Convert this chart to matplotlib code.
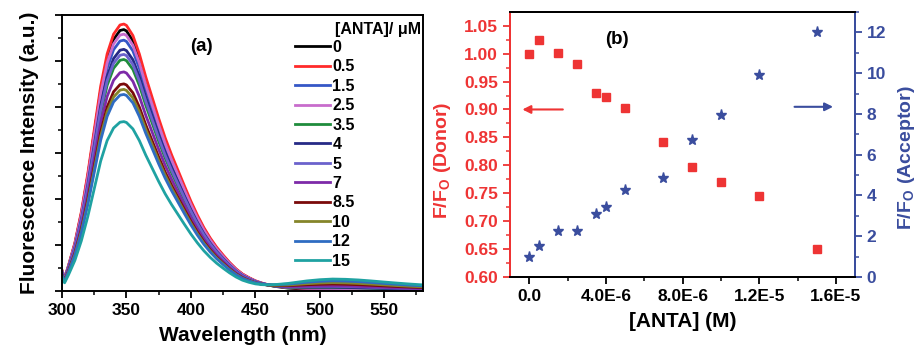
import numpy as np
import matplotlib
matplotlib.use("Agg")
import matplotlib.pyplot as plt
from matplotlib.ticker import MultipleLocator, FixedLocator

plt.rcParams['font.family'] = ['Liberation Sans', 'DejaVu Sans']
plt.rcParams['font.weight'] = 'bold'
plt.rcParams['mathtext.fontset'] = 'custom'
plt.rcParams['mathtext.bf'] = 'Liberation Sans:bold'
plt.rcParams['mathtext.rm'] = 'Liberation Sans:bold'

# ---- panel (a) data: emission spectra ----
wavelength = [300, 302, 305, 310, 315, 320, 325, 330, 335, 340, 345, 348, 350,
              355, 360, 365, 370, 375, 380, 385, 390, 395, 400, 405, 410, 415,
              420, 425, 430, 435, 440, 445, 450, 455, 460, 465, 470, 475, 480,
              490, 500, 510, 520, 530, 540, 550, 560, 570, 580]
# donor emission
donor_trace = [45, 28, 55, 105, 172, 255, 350, 445, 515, 558, 578, 580, 577,
               555, 515, 465, 420, 375, 333, 296, 262, 228, 195, 165, 138, 115,
               95, 78, 62, 48, 37, 29, 22, 17, 13, 10, 8, 6, 5,
               3, 2, 1.5, 1, 0.7, 0.5, 0.3, 0.2, 0.1, 0]
# acceptor band around 510 nm (relative)
acceptor_band = [0, 0, 0, 0, 0, 0, 0, 0, 0, 0, 0, 0, 0,
                 0, 0, 0, 0, 0, 0, 0, 0, 0, 0, 0, 0, 0,
                 0, 0, 0, 0, 0, 0.02, 0.06, 0.12, 0.2, 0.3, 0.4, 0.5, 0.6,
                 0.8, 0.93, 1.0, 0.99, 0.94, 0.86, 0.77, 0.68, 0.6, 0.53]

conc_labels = ["0", "0.5", "1.5", "2.5", "3.5", "4", "5", "7", "8.5", "10", "12", "15"]
peak_height = [568, 580, 545, 558, 503, 525, 514, 476, 450, 438, 427, 368]
band_height = [1, 3, 4.5, 4.5, 6.5, 7, 9, 10, 14, 17, 21, 25]
line_colors = ["#000000", "#ff2a2a", "#3557c6", "#c86ccc", "#1f8c3c", "#262a86",
               "#6b62cc", "#7d2aa8", "#7a0a0a", "#85852a", "#2f6cc2", "#1fa2a2"]

# ---- panel (b) data ----
anta_M = [0, 0.5e-6, 1.5e-6, 2.5e-6, 3.5e-6, 4e-6, 5e-6, 7e-6, 8.5e-6, 1e-5, 1.2e-5, 1.5e-5]
ff0_donor = [1.000, 1.024, 1.001, 0.982, 0.929, 0.922, 0.902, 0.842, 0.797, 0.771, 0.745, 0.650]
ff0_acceptor = [0.97, 1.5, 2.25, 2.25, 3.1, 3.43, 4.25, 4.85, 6.72, 7.93, 9.9, 12.0]
xtick_vals = [0, 4e-6, 8e-6, 1.2e-5, 1.6e-5]
xtick_text = ["0.0", "4.0E-6", "8.0E-6", "1.2E-5", "1.6E-5"]

RED = "#ee3434"
BLUE = "#3a4d9e"

fig = plt.figure(figsize=(9.16, 3.5), dpi=100)

# ---------------- panel (a) ----------------
ax1 = fig.add_axes([0.0677, 0.1686, 0.394, 0.789])
wl = np.array(wavelength)
shape = np.array(donor_trace) / max(donor_trace)
band = np.array(acceptor_band)
for lab, pk, bh, col in zip(conc_labels, peak_height, band_height, line_colors):
    ax1.plot(wl, pk * shape + bh * band, color=col, lw=2.0, label=lab)

ax1.set_xlim(300, 580)
ax1.set_ylim(0, 600)
ax1.xaxis.set_major_locator(MultipleLocator(50))
ax1.xaxis.set_minor_locator(MultipleLocator(25))
ax1.yaxis.set_major_locator(MultipleLocator(100))
ax1.yaxis.set_minor_locator(MultipleLocator(50))
ax1.set_yticklabels([])
ax1.tick_params(which='major', length=5, width=1.3, labelsize=12.5)
ax1.tick_params(which='minor', length=3, width=1.1)
for s in ax1.spines.values():
    s.set_linewidth(1.4)
ax1.set_xlabel("Wavelength (nm)", fontsize=15, fontweight='bold', labelpad=6)
ax1.set_ylabel("Fluorescence Intensity (a.u.)", fontsize=15, fontweight='bold', labelpad=8)
ax1.text(0.385, 0.885, "(a)", transform=ax1.transAxes, fontsize=13.5,
         fontweight='bold', ha='center', va='center')

ax1.text(0.756, 0.946, "[ANTA]/ \u03bcM", transform=ax1.transAxes, fontsize=11.5,
         fontweight='bold', ha='left', va='center')
ax1.legend(loc='upper left', bbox_to_anchor=(0.645, 0.91), frameon=False,
           fontsize=11.5, handlelength=2.2, handletextpad=0.15,
           labelspacing=0.28, borderaxespad=0, borderpad=0)

# ---------------- panel (b) ----------------
ax2 = fig.add_axes([0.5568, 0.2086, 0.3766, 0.757])
ax2.plot(anta_M, ff0_donor, 's', color=RED, ms=5.5, ls='none')
ax2.set_xlim(-1e-6, 1.7e-5)
ax2.set_ylim(0.60, 1.0745)
ax2.xaxis.set_major_locator(FixedLocator(xtick_vals))
ax2.set_xticklabels(xtick_text)
ax2.xaxis.set_minor_locator(MultipleLocator(2e-6))
ax2.yaxis.set_major_locator(MultipleLocator(0.05))
ax2.yaxis.set_minor_locator(MultipleLocator(0.025))
ax2.yaxis.set_major_formatter(matplotlib.ticker.FormatStrFormatter('%.2f'))
ax2.tick_params(which='major', length=5, width=1.3, labelsize=12.5)
ax2.tick_params(which='minor', length=3, width=1.1)
ax2.tick_params(axis='y', which='both', colors=RED)
ax2.spines['left'].set_color(RED)
ax2.spines['right'].set_color(BLUE)
for s in ax2.spines.values():
    s.set_linewidth(1.4)
ax2.set_xlabel("[ANTA] (M)", fontsize=15, fontweight='bold', labelpad=6)
ax2.set_ylabel(r"F/F$_\mathbf{O}$ (Donor)", fontsize=14, fontweight='bold', color=RED)
ax2.yaxis.set_label_coords(-0.165, 0.44)
ax2.text(0.31, 0.895, "(b)", transform=ax2.transAxes, fontsize=13.5,
         fontweight='bold', ha='center', va='center')
ax2.annotate("", xy=(-0.5e-6, 0.90), xytext=(1.9e-6, 0.90),
             arrowprops=dict(arrowstyle='-|>', color=RED, lw=1.5, mutation_scale=12))

ax3 = ax2.twinx()
ax3.plot(anta_M, ff0_acceptor, '*', color=BLUE, ms=8, ls='none')
ax3.set_ylim(0, 13)
ax3.yaxis.set_major_locator(MultipleLocator(2))
ax3.yaxis.set_minor_locator(MultipleLocator(1))
ax3.tick_params(which='major', length=5, width=1.3, labelsize=12.5, colors=BLUE)
ax3.tick_params(which='minor', length=3, width=1.1, colors=BLUE)
ax3.spines['right'].set_color(BLUE)
ax3.spines['left'].set_color(RED)
for s in ax3.spines.values():
    s.set_linewidth(1.4)
ax3.set_ylabel(r"F/F$_\mathbf{O}$ (Acceptor)", fontsize=14, fontweight='bold', color=BLUE)
ax3.yaxis.set_label_coords(1.12, 0.45)
ax3.annotate("", xy=(1.6e-5, 8.35), xytext=(1.37e-5, 8.35),
             arrowprops=dict(arrowstyle='-|>', color=BLUE, lw=1.5, mutation_scale=12))

fig.savefig("out.png", dpi=100)
